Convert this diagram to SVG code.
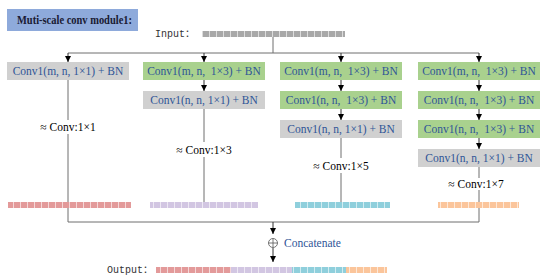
<svg xmlns="http://www.w3.org/2000/svg" width="550" height="277" viewBox="0 0 550 277">
<style>
.box-g{fill:#d0d0d0}
.box-n{fill:#a9d18e}
.bt{font-family:"Liberation Serif",serif;font-size:11.5px;fill:#2f5597;text-anchor:middle;white-space:pre}
.ct{font-family:"Liberation Serif",serif;font-size:11.5px;fill:#000;text-anchor:middle}
.mono{font-family:"Liberation Mono","Noto Sans CJK SC",monospace;font-size:10px;fill:#333}
.ln{stroke:#6e6e6e;stroke-width:1;fill:none}
.ar{stroke:#333;stroke-width:1;fill:none;marker-end:url(#ah)}
</style>
<defs>
<marker id="ah" viewBox="0 0 6 6" refX="6" refY="3" markerWidth="6" markerHeight="6" markerUnits="userSpaceOnUse" orient="auto">
<path d="M0,0 L6,3 L0,6 z" fill="#000"/>
</marker>
<pattern id="seg" width="7" height="10" patternUnits="userSpaceOnUse">
<rect x="6" y="0" width="1" height="10" fill="#fff" opacity="0.6"/>
</pattern>
</defs>
<rect width="550" height="277" fill="#fff"/>

<g id="title">
<rect x="7" y="9" width="131" height="22" fill="#8eaadb"/>
<text x="17" y="24" font-family="Liberation Serif,serif" font-size="12.5" font-weight="600" fill="#1a1a33" textLength="115" lengthAdjust="spacingAndGlyphs">Muti-scale conv module1:</text>
</g>

<g id="input">
<text x="155" y="37" class="mono">Input：</text>
<rect x="202" y="31" width="143" height="6" fill="#a8a8a8"/>
<rect x="202" y="31" width="143" height="6" fill="url(#seg)"/>
</g>

<g id="connectors">
<path class="ln" d="M273,37 V53 M68,53 H479"/>
<path class="ar" d="M68,53 V62"/>
<path class="ar" d="M204,53 V62"/>
<path class="ar" d="M341,53 V62"/>
<path class="ar" d="M479,53 V62"/>
<path class="ar" d="M204,80 V91"/>
<path class="ar" d="M341,80 V91"/>
<path class="ar" d="M341,109 V120"/>
<path class="ar" d="M479,80 V91"/>
<path class="ar" d="M479,109 V120"/>
<path class="ar" d="M479,138 V149"/>
<path class="ln" d="M68,80 V120 M68,134 V222 H479 V190 M479,178 V166"/>
<path class="ln" d="M204,109 V142 M204,157 V202"/>
<path class="ln" d="M341,138 V158 M341,173 V202"/>
<path class="ar" d="M273,222 V234"/>
<path class="ar" d="M273,248 V262"/>
</g>

<g id="col1">
<rect class="box-g" x="7" y="62" width="122" height="18"/>
<text class="bt" x="68" y="75">Conv1(m, n, 1×1) + BN</text>
<text class="ct" x="68" y="131">≈ Conv:1×1</text>
</g>

<g id="col2">
<rect class="box-n" x="143" y="62" width="122" height="18"/>
<text class="bt" x="204" y="75" xml:space="preserve">Conv1(m, n,  1×3) + BN</text>
<rect class="box-g" x="143" y="91" width="122" height="18"/>
<text class="bt" x="204" y="104">Conv1(n, n, 1×1) + BN</text>
<text class="ct" x="204" y="154">≈ Conv:1×3</text>
</g>

<g id="col3">
<rect class="box-n" x="280" y="62" width="122" height="18"/>
<text class="bt" x="341" y="75" xml:space="preserve">Conv1(m, n,  1×3) + BN</text>
<rect class="box-n" x="280" y="91" width="122" height="18"/>
<text class="bt" x="341" y="104" xml:space="preserve">Conv1(n, n,  1×3) + BN</text>
<rect class="box-g" x="280" y="120" width="122" height="18"/>
<text class="bt" x="341" y="133">Conv1(n, n, 1×1) + BN</text>
<text class="ct" x="341" y="170">≈ Conv:1×5</text>
</g>

<g id="col4">
<rect class="box-n" x="418" y="62" width="122" height="18"/>
<text class="bt" x="479" y="75" xml:space="preserve">Conv1(m, n,  1×3) + BN</text>
<rect class="box-n" x="418" y="91" width="122" height="18"/>
<text class="bt" x="479" y="104" xml:space="preserve">Conv1(n, n,  1×3) + BN</text>
<rect class="box-n" x="418" y="120" width="122" height="18"/>
<text class="bt" x="479" y="133" xml:space="preserve">Conv1(n, n,  1×3) + BN</text>
<rect class="box-g" x="418" y="149" width="122" height="18"/>
<text class="bt" x="479" y="162">Conv1(n, n, 1×1) + BN</text>
<text class="ct" x="476" y="188">≈ Conv:1×7</text>
</g>

<g id="bars">
<rect x="8" y="202" width="123" height="6" fill="#e39a9a"/>
<rect x="8" y="202" width="123" height="6" fill="url(#seg)"/>
<rect x="150" y="202" width="108" height="6" fill="#d2c6e2"/>
<rect x="150" y="202" width="108" height="6" fill="url(#seg)"/>
<rect x="295" y="202" width="95" height="6" fill="#8fcfdc"/>
<rect x="295" y="202" width="95" height="6" fill="url(#seg)"/>
<rect x="438" y="202" width="81" height="6" fill="#fbc59b"/>
<rect x="438" y="202" width="81" height="6" fill="url(#seg)"/>
</g>

<g id="concat">
<circle cx="273" cy="243" r="4.5" fill="#fff" stroke="#555" stroke-width="0.8"/>
<path d="M268.5,243 H277.5 M273,238.5 V247.5" stroke="#555" stroke-width="0.8"/>
<text x="284" y="247" font-family="Liberation Serif,serif" font-size="11.5" fill="#2f5597">Concatenate</text>
</g>

<g id="output">
<text x="107" y="273" class="mono">Output：</text>
<rect x="156" y="267" width="75" height="6" fill="#e39a9a"/>
<rect x="231" y="267" width="61" height="6" fill="#d2c6e2"/>
<rect x="292" y="267" width="54" height="6" fill="#8fcfdc"/>
<rect x="346" y="267" width="41" height="6" fill="#fbc59b"/>
<rect x="156" y="267" width="231" height="6" fill="url(#seg)"/>
</g>
</svg>
